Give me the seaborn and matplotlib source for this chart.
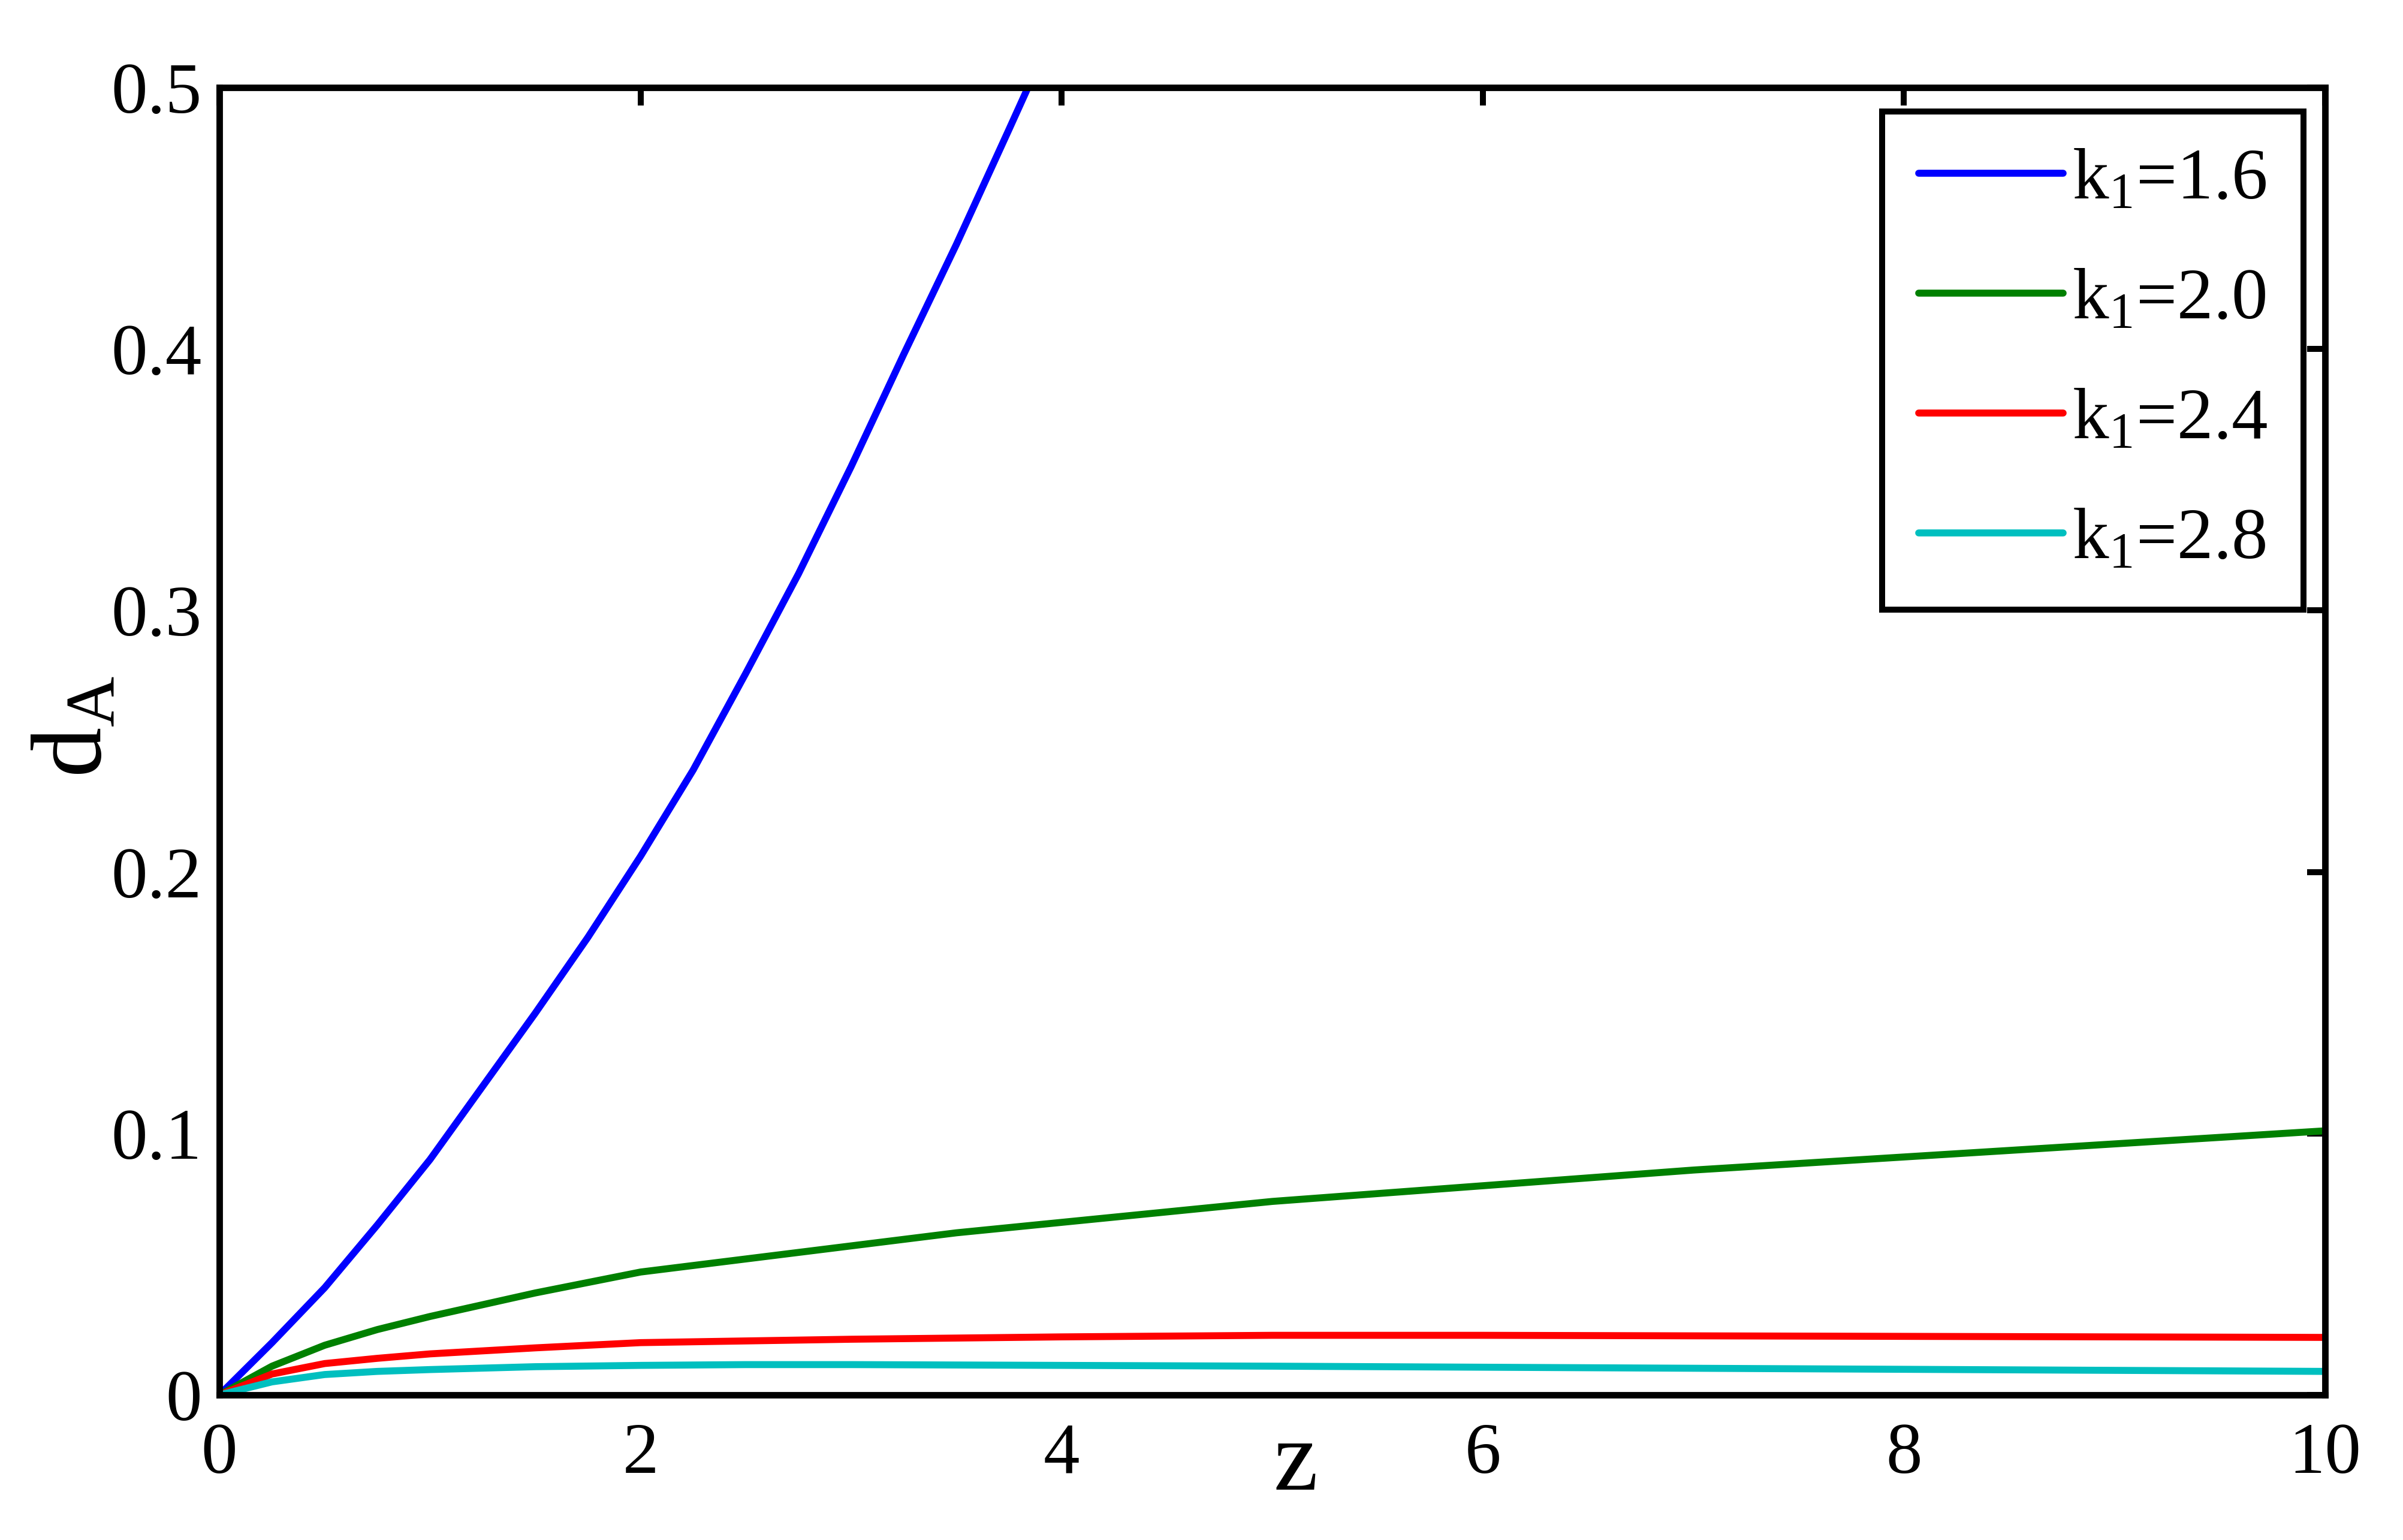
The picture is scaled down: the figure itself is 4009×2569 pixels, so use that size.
import numpy as np
import pandas as pd
import matplotlib
matplotlib.use("Agg")
import matplotlib.pyplot as plt
import seaborn as sns

# Values (z, d_A) for each k1
z_k16 = [0, 0.25, 0.5, 0.75, 1.0, 1.25, 1.5, 1.75, 2.0, 2.25, 2.5, 2.75, 3.0, 3.25, 3.5, 3.75, 3.84]
d_k16 = [0, 0.020, 0.041, 0.065, 0.090, 0.118, 0.146, 0.175, 0.206, 0.239, 0.276, 0.314, 0.355, 0.398, 0.440, 0.484, 0.500]

z_k20 = [0, 0.25, 0.5, 0.75, 1.0, 1.5, 2.0, 2.5, 3.0, 3.5, 4.0, 5.0, 6.0, 7.0, 8.0, 9.0, 10.0]
d_k20 = [0, 0.011, 0.019, 0.025, 0.030, 0.039, 0.047, 0.052, 0.057, 0.062, 0.066, 0.074, 0.080, 0.086, 0.091, 0.096, 0.101]

z_k24 = [0, 0.25, 0.5, 0.75, 1.0, 1.5, 2.0, 3.0, 4.0, 5.0, 6.0, 7.0, 8.0, 9.0, 10.0]
d_k24 = [0, 0.008, 0.012, 0.014, 0.0157, 0.018, 0.020, 0.0213, 0.0222, 0.0228, 0.0228, 0.0226, 0.0224, 0.0222, 0.0220]

z_k28 = [0, 0.25, 0.5, 0.75, 1.0, 1.5, 2.0, 2.5, 3.0, 4.0, 5.0, 6.0, 7.0, 8.0, 9.0, 10.0]
d_k28 = [0, 0.005, 0.0078, 0.009, 0.0097, 0.0108, 0.0113, 0.0116, 0.0116, 0.0113, 0.0110, 0.0106, 0.0102, 0.0098, 0.0094, 0.0090]

labels = [r"k$_\mathregular{1}$=1.6", r"k$_\mathregular{1}$=2.0",
          r"k$_\mathregular{1}$=2.4", r"k$_\mathregular{1}$=2.8"]
colors = ["#0000ff", "#008000", "#ff0000", "#00bfbf"]

x_ticks = [0, 2, 4, 6, 8, 10]
y_ticks = [0, 0.1, 0.2, 0.3, 0.4, 0.5]
y_tick_labels = ["0", "0.1", "0.2", "0.3", "0.4", "0.5"]

# Long-form table for seaborn
frames = []
for z, d, lab in zip([z_k16, z_k20, z_k24, z_k28], [d_k16, d_k20, d_k24, d_k28], labels):
    frames.append(pd.DataFrame({"z": z, "d": d, "k1": lab}))
df = pd.concat(frames, ignore_index=True)

sns.set_style("white")
plt.rcParams["font.family"] = ["Liberation Serif", "DejaVu Serif"]
plt.rcParams["mathtext.fontset"] = "custom"
plt.rcParams["mathtext.rm"] = "Liberation Serif"
plt.rcParams["mathtext.it"] = "Liberation Serif:italic"
plt.rcParams["text.color"] = "black"
plt.rcParams["axes.labelcolor"] = "black"
plt.rcParams["xtick.color"] = "black"
plt.rcParams["ytick.color"] = "black"

fig = plt.figure(figsize=(4009 / 300, 2569 / 300), dpi=300)
ax = fig.add_axes([0.0913, 0.0942, 0.8763, 0.8490])

sns.lineplot(data=df, x="z", y="d", hue="k1", palette=dict(zip(labels, colors)),
             hue_order=labels, estimator=None, sort=False, linewidth=2.8, ax=ax)

ax.set_xlim(0, 10)
ax.set_ylim(0, 0.5)
ax.set_xticks(x_ticks)
ax.set_xticklabels([str(t) for t in x_ticks])
ax.set_yticks(y_ticks)
ax.set_yticklabels(y_tick_labels)

for side in ["left", "right", "top", "bottom"]:
    ax.spines[side].set_visible(True)
    ax.spines[side].set_linewidth(2.6)
    ax.spines[side].set_color("black")

ax.tick_params(direction="in", length=7.2, width=2.4, labelsize=29, colors="black",
               top=True, right=True)
ax.tick_params(axis="x", pad=11)
ax.tick_params(axis="y", pad=7)

ax.set_xlabel("z", fontsize=40)
ax.xaxis.label.set_va("baseline")
ax.xaxis.set_label_coords(0.511, -0.0724)
ax.set_ylabel(r"$\mathregular{d_A}$", fontsize=40)
ax.yaxis.set_label_coords(-0.046, 0.511)

leg = ax.legend(loc="upper right", bbox_to_anchor=(0.9898, 0.9817), borderaxespad=0,
                fontsize=29, handlelength=2.0, handletextpad=0.12, labelspacing=0.74,
                borderpad=0.5, fancybox=False, frameon=True, framealpha=1)
leg.get_frame().set_edgecolor("black")
leg.get_frame().set_linewidth(2.4)
for line in leg.get_lines():
    line.set_linewidth(2.8)

fig.savefig("out.png", dpi=300, facecolor="white")
